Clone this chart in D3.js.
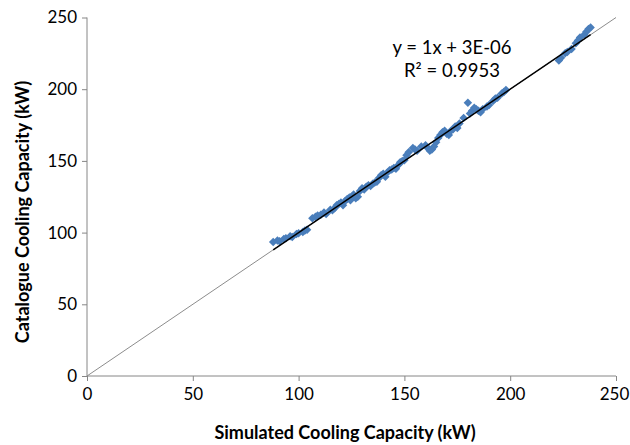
<!DOCTYPE html>
<html>
<head>
<meta charset="utf-8">
<script src="https://cdn.jsdelivr.net/npm/d3@7"></script>
<style>
  body { margin: 0; background: #fff; }
  text { font-family: Lato, "Open Sans", sans-serif; fill: #000; }
</style>
</head>
<body>
<div id="graph"></div>
<script>
// simulated (x) vs catalogue (y) cooling capacity, kW
var simulated = [88, 90, 91, 93, 94, 96, 97, 99, 100, 102, 103, 104,
  106.5, 108, 109, 110.5, 112, 113, 115, 116, 117, 118, 119, 120, 121, 122, 123, 124, 124.5, 125, 126, 127, 128,
  129, 130, 131, 132, 133, 134, 135, 136, 137, 138, 139, 140, 141, 142, 143, 144, 145, 146, 147, 148, 149, 150,
  151, 152, 154, 155, 156, 158, 160, 161, 162, 163, 164, 165, 166, 167, 168, 169, 170, 171, 172, 173, 174, 175, 176, 178,
  180, 181, 182, 183, 184, 185, 186, 187, 189, 190, 192, 193, 194, 196, 197, 198,
  223, 224, 226, 227, 229, 231, 232, 233, 235, 236, 237, 238];
var catalogue = [93.5, 94.5, 94, 95.5, 96, 97.5, 97, 99, 99.5, 100.5, 101.5, 102,
  110, 111, 112, 112.5, 114, 113, 116, 115.5, 117, 119, 120, 121, 119, 122, 123.5, 124.5, 122.5, 125, 126.5, 124, 125,
  129, 131, 130, 132, 133, 132.5, 134, 135, 135.5, 138, 140, 141, 139, 142, 143.5, 144, 145, 144.5, 147, 149, 150, 150.5,
  154, 156, 159, 158, 157, 160, 161, 159, 157, 158, 160, 163, 166, 168, 170, 171, 169, 168, 171, 172, 174, 173, 176, 180,
  190.5, 183, 185, 187, 186, 185, 184, 186, 188, 189, 192, 193.5, 194, 197, 198, 199.5,
  220, 222, 225, 226, 228, 232, 234, 236, 238, 240, 242, 243];
var ticks = [0, 50, 100, 150, 200, 250];
var fitSlope = 1, fitIntercept = 3e-6;
var fitLabel = 'y = 1x + 3E-06', r2Label = 'R\u00b2 = 0.9953';

var width = 630, height = 445;
var margin = { top: 17.5, right: 14, bottom: 69, left: 87 };
var w = width - margin.left - margin.right,
    h = height - margin.top - margin.bottom;

var svg = d3.select('#graph').append('svg')
    .attr('width', width).attr('height', height);
var g = svg.append('g').attr('transform', 'translate(' + margin.left + ',' + margin.top + ')');

var x = d3.scaleLinear().domain([0, 250]).range([0, w]);
var y = d3.scaleLinear().domain([0, 250]).range([h, 0]);

var xAxis = g.append('g').attr('transform', 'translate(0,' + h + ')')
    .call(d3.axisBottom(x).tickValues(ticks).tickSize(5).tickPadding(7));
var yAxis = g.append('g')
    .call(d3.axisLeft(y).tickValues(ticks).tickSize(5).tickPadding(5));
[xAxis, yAxis].forEach(function(a) {
  a.selectAll('path, line').attr('stroke', '#868686');
  a.selectAll('text').style('font-size', '17px').attr('fill', '#000');
});
xAxis.select('.domain').attr('d', 'M0.5,0H' + w);
yAxis.select('.domain').attr('d', 'M0,0V' + h);
// keep the last x label inside the window
xAxis.selectAll('.tick text').filter(function(d) { return d === 250; }).attr('dx', '-2');

// 1:1 reference line
g.append('line')
    .attr('x1', x(0)).attr('y1', y(0)).attr('x2', x(250)).attr('y2', y(250))
    .attr('stroke', '#8c8c8c').attr('stroke-width', 1);

var pts = simulated.map(function(d, i) { return [d, catalogue[i]]; });
var diamond = d3.symbol().type(d3.symbolSquare).size(36);
g.selectAll('path.pt').data(pts).enter().append('path')
    .attr('class', 'pt')
    .attr('d', diamond)
    .attr('transform', function(d) { return 'translate(' + x(d[0]) + ',' + y(d[1]) + ') rotate(45)'; })
    .attr('fill', '#4a7ebb');

// linear trendline over data range
var ext = d3.extent(simulated);
g.append('line')
    .attr('x1', x(ext[0])).attr('y1', y(fitSlope * ext[0] + fitIntercept))
    .attr('x2', x(ext[1])).attr('y2', y(fitSlope * ext[1] + fitIntercept))
    .attr('stroke', '#000').attr('stroke-width', 1.5);

svg.append('text').attr('x', 452).attr('y', 54).attr('text-anchor', 'middle')
    .style('font-size', '18.5px').text(fitLabel);
svg.append('text').attr('x', 452).attr('y', 77).attr('text-anchor', 'middle')
    .style('font-size', '18.5px').text(r2Label);

svg.append('text').attr('x', 345).attr('y', 439).attr('text-anchor', 'middle')
    .style('font-size', '18px').style('font-weight', 'bold')
    .text('Simulated Cooling Capacity (kW)');
svg.append('text').attr('transform', 'translate(29,212) rotate(-90)').attr('text-anchor', 'middle')
    .style('font-size', '18px').style('font-weight', 'bold')
    .text('Catalogue Cooling Capacity (kW)');
</script>
</body>
</html>
